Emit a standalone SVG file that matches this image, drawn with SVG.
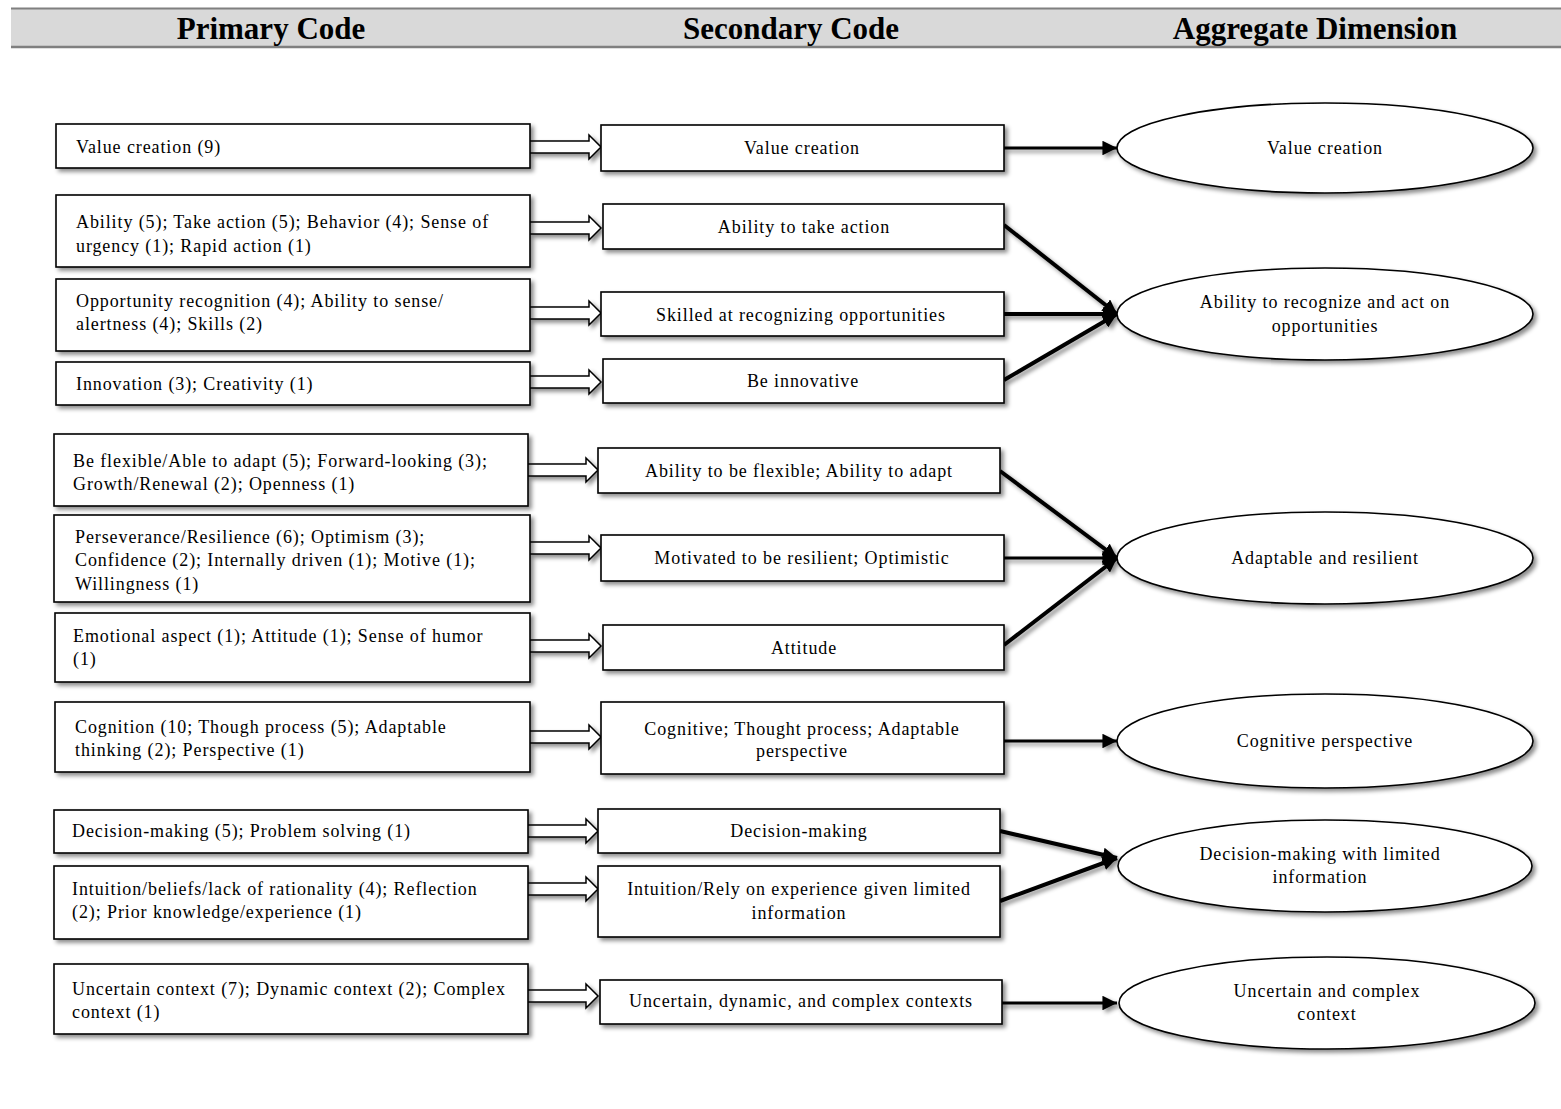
<svg xmlns="http://www.w3.org/2000/svg" width="1561" height="1109" viewBox="0 0 1561 1109">
<style>
.box{fill:#fff;stroke:#000;stroke-width:1.6}
.ell{fill:#fff;stroke:#000;stroke-width:1.6}
.t{font-family:"Liberation Serif","Times New Roman",serif;font-size:18px;letter-spacing:0.9px;fill:#000}
.c{text-anchor:middle}
.h{font-family:"Liberation Serif","Times New Roman",serif;font-size:31px;font-weight:bold;text-anchor:middle;fill:#000}
.blk{fill:#fff;stroke:#000;stroke-width:1.5;stroke-linejoin:miter}
.ln{stroke:#000;fill:none}
</style>
<defs>
<filter id="sh" x="-10%" y="-20%" width="125%" height="150%">
<feDropShadow dx="3" dy="3" stdDeviation="2" flood-color="#000" flood-opacity="0.45"/>
</filter>
<marker id="ah" viewBox="0 0 10 10" refX="10" refY="5" markerWidth="5.2" markerHeight="5.2" markerUnits="strokeWidth" orient="auto">
<path d="M0,0 L10,5 L0,10 Z" fill="#000"/>
</marker>
<marker id="ah2" viewBox="0 0 10 10" refX="10" refY="5" markerWidth="3.6" markerHeight="3.6" markerUnits="strokeWidth" orient="auto">
<path d="M0,0 L10,5 L0,10 Z" fill="#000"/>
</marker>
</defs>
<rect width="1561" height="1109" fill="#fff"/>

<g id="header">
<rect x="11" y="8" width="1550" height="39" fill="#d9d9d9"/>
<line x1="11" y1="8.5" x2="1561" y2="8.5" stroke="#808080" stroke-width="2"/>
<line x1="11" y1="47" x2="1561" y2="47" stroke="#808080" stroke-width="2.5"/>
<text class="h" x="271" y="39">Primary Code</text>
<text class="h" x="791" y="39">Secondary Code</text>
<text class="h" x="1315" y="39">Aggregate Dimension</text>
</g>

<g id="connectors">
<g id="block-arrows">
<path class="blk" d="M530,141 H589 V135 L601,147 L589,159 V153 H530" filter="url(#sh)"/>
<path class="blk" d="M530,222 H589 V216 L601,228 L589,240 V234 H530" filter="url(#sh)"/>
<path class="blk" d="M530,307 H589 V301 L601,313 L589,325 V319 H530" filter="url(#sh)"/>
<path class="blk" d="M530,376 H589 V370 L601,382 L589,394 V388 H530" filter="url(#sh)"/>
<path class="blk" d="M528,464 H586 V458 L598,470 L586,482 V476 H528" filter="url(#sh)"/>
<path class="blk" d="M530,542 H589 V536 L601,548 L589,560 V554 H530" filter="url(#sh)"/>
<path class="blk" d="M530,640 H589 V634 L601,646 L589,658 V652 H530" filter="url(#sh)"/>
<path class="blk" d="M530,731 H589 V725 L601,737 L589,749 V743 H530" filter="url(#sh)"/>
<path class="blk" d="M528,825 H586 V819 L598,831 L586,843 V837 H528" filter="url(#sh)"/>
<path class="blk" d="M528,883 H586 V877 L598,889 L586,901 V895 H528" filter="url(#sh)"/>
<path class="blk" d="M528,990 H586 V984 L598,996 L586,1008 V1002 H528" filter="url(#sh)"/>
</g>
<g id="lines" filter="url(#sh)">
<line class="ln" x1="1004" y1="148" x2="1117" y2="148" stroke-width="2.8" marker-end="url(#ah)"/>
<line class="ln" x1="1004" y1="225" x2="1117" y2="314" stroke-width="4" marker-end="url(#ah2)"/>
<line class="ln" x1="1004" y1="314" x2="1117" y2="314" stroke-width="4" marker-end="url(#ah2)"/>
<line class="ln" x1="1004" y1="380" x2="1117" y2="314" stroke-width="4" marker-end="url(#ah2)"/>
<line class="ln" x1="1000" y1="471" x2="1117" y2="558" stroke-width="4" marker-end="url(#ah2)"/>
<line class="ln" x1="1004" y1="558" x2="1117" y2="558" stroke-width="2.8" marker-end="url(#ah)"/>
<line class="ln" x1="1004" y1="645" x2="1117" y2="558" stroke-width="4" marker-end="url(#ah2)"/>
<line class="ln" x1="1004" y1="741" x2="1117" y2="741" stroke-width="2.8" marker-end="url(#ah)"/>
<line class="ln" x1="1000" y1="831" x2="1117" y2="858" stroke-width="4" marker-end="url(#ah2)"/>
<line class="ln" x1="1000" y1="901" x2="1117" y2="858" stroke-width="4" marker-end="url(#ah2)"/>
<line class="ln" x1="1000" y1="1003" x2="1117" y2="1003" stroke-width="2.8" marker-end="url(#ah)"/>
</g>
</g>

<g id="p1"><rect class="box" x="56" y="124" width="474" height="44" filter="url(#sh)"/><text class="t" x="76" y="153">Value creation (9)</text></g>
<g id="p2"><rect class="box" x="56" y="195" width="474" height="72" filter="url(#sh)"/><text class="t" x="76" y="228">Ability (5); Take action (5); Behavior (4); Sense of</text><text class="t" x="76" y="252">urgency (1); Rapid action (1)</text></g>
<g id="p3"><rect class="box" x="56" y="279" width="474" height="72" filter="url(#sh)"/><text class="t" x="76" y="307">Opportunity recognition (4); Ability to sense/</text><text class="t" x="76" y="330">alertness (4); Skills (2)</text></g>
<g id="p4"><rect class="box" x="56" y="362" width="474" height="43" filter="url(#sh)"/><text class="t" x="76" y="390">Innovation (3); Creativity (1)</text></g>
<g id="p5"><rect class="box" x="54" y="434" width="474" height="72" filter="url(#sh)"/><text class="t" x="73" y="467">Be flexible/Able to adapt (5); Forward-looking (3);</text><text class="t" x="73" y="490">Growth/Renewal (2); Openness (1)</text></g>
<g id="p6"><rect class="box" x="54" y="515" width="476" height="87" filter="url(#sh)"/><text class="t" x="75" y="543">Perseverance/Resilience (6); Optimism (3);</text><text class="t" x="75" y="566">Confidence (2); Internally driven (1); Motive (1);</text><text class="t" x="75" y="590">Willingness (1)</text></g>
<g id="p7"><rect class="box" x="55" y="613" width="475" height="69" filter="url(#sh)"/><text class="t" x="73" y="642">Emotional aspect (1); Attitude (1); Sense of humor</text><text class="t" x="73" y="665">(1)</text></g>
<g id="p8"><rect class="box" x="55" y="702" width="475" height="70" filter="url(#sh)"/><text class="t" x="75" y="733">Cognition (10; Though process (5); Adaptable</text><text class="t" x="75" y="756">thinking (2); Perspective (1)</text></g>
<g id="p9"><rect class="box" x="54" y="810" width="474" height="43" filter="url(#sh)"/><text class="t" x="72" y="837">Decision-making (5); Problem solving (1)</text></g>
<g id="p10"><rect class="box" x="54" y="866" width="474" height="73" filter="url(#sh)"/><text class="t" x="72" y="895">Intuition/beliefs/lack of rationality (4); Reflection</text><text class="t" x="72" y="918">(2); Prior knowledge/experience (1)</text></g>
<g id="p11"><rect class="box" x="54" y="964" width="474" height="70" filter="url(#sh)"/><text class="t" x="72" y="995">Uncertain context (7); Dynamic context (2); Complex</text><text class="t" x="72" y="1018">context (1)</text></g>

<g id="s1"><rect class="box" x="601" y="125" width="403" height="46" filter="url(#sh)"/><text class="t c" x="802" y="154">Value creation</text></g>
<g id="s2"><rect class="box" x="603" y="204" width="401" height="45" filter="url(#sh)"/><text class="t c" x="804" y="233">Ability to take action</text></g>
<g id="s3"><rect class="box" x="601" y="292" width="403" height="44" filter="url(#sh)"/><text class="t c" x="801" y="321">Skilled at recognizing opportunities</text></g>
<g id="s4"><rect class="box" x="603" y="359" width="401" height="44" filter="url(#sh)"/><text class="t c" x="803" y="387">Be innovative</text></g>
<g id="s5"><rect class="box" x="598" y="448" width="402" height="45" filter="url(#sh)"/><text class="t c" x="799" y="477">Ability to be flexible; Ability to adapt</text></g>
<g id="s6"><rect class="box" x="601" y="535" width="403" height="46" filter="url(#sh)"/><text class="t c" x="802" y="564">Motivated to be resilient; Optimistic</text></g>
<g id="s7"><rect class="box" x="603" y="625" width="401" height="45" filter="url(#sh)"/><text class="t c" x="804" y="654">Attitude</text></g>
<g id="s8"><rect class="box" x="601" y="702" width="403" height="72" filter="url(#sh)"/><text class="t c" x="802" y="735">Cognitive; Thought process; Adaptable</text><text class="t c" x="802" y="757">perspective</text></g>
<g id="s9"><rect class="box" x="598" y="809" width="402" height="44" filter="url(#sh)"/><text class="t c" x="799" y="837">Decision-making</text></g>
<g id="s10"><rect class="box" x="598" y="866" width="402" height="71" filter="url(#sh)"/><text class="t c" x="799" y="895">Intuition/Rely on experience given limited</text><text class="t c" x="799" y="919">information</text></g>
<g id="s11"><rect class="box" x="600" y="980" width="402" height="44" filter="url(#sh)"/><text class="t c" x="801" y="1007">Uncertain, dynamic, and complex contexts</text></g>

<g id="a1"><ellipse class="ell" cx="1325" cy="148" rx="208" ry="45" filter="url(#sh)"/><text class="t c" x="1325" y="154">Value creation</text></g>
<g id="a2"><ellipse class="ell" cx="1325" cy="314" rx="208" ry="46" filter="url(#sh)"/><text class="t c" x="1325" y="308">Ability to recognize and act on</text><text class="t c" x="1325" y="332">opportunities</text></g>
<g id="a3"><ellipse class="ell" cx="1325" cy="558" rx="208" ry="46" filter="url(#sh)"/><text class="t c" x="1325" y="564">Adaptable and resilient</text></g>
<g id="a4"><ellipse class="ell" cx="1325" cy="741" rx="208" ry="47" filter="url(#sh)"/><text class="t c" x="1325" y="747">Cognitive perspective</text></g>
<g id="a5"><ellipse class="ell" cx="1325" cy="866" rx="207" ry="46" filter="url(#sh)"/><text class="t c" x="1320" y="860">Decision-making with limited</text><text class="t c" x="1320" y="883">information</text></g>
<g id="a6"><ellipse class="ell" cx="1327" cy="1003" rx="208" ry="46" filter="url(#sh)"/><text class="t c" x="1327" y="997">Uncertain and complex</text><text class="t c" x="1327" y="1020">context</text></g>
</svg>
